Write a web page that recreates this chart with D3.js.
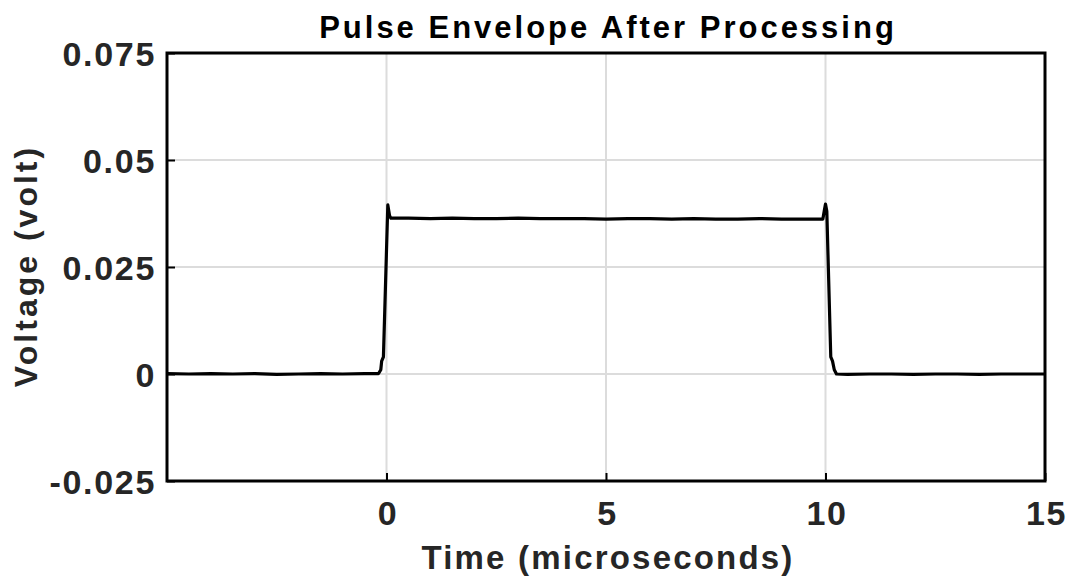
<!DOCTYPE html>
<html>
<head>
<meta charset="utf-8">
<script src="https://cdn.jsdelivr.net/npm/d3@7"></script>
<style>
  body { margin: 0; background: #fff; }
  text { font-family: "Liberation Sans", Arial, sans-serif; font-weight: bold; }
</style>
</head>
<body>
<script>
// Values
var timeUs = [-5, -4.5, -4, -3.5, -3, -2.5, -2, -1.5, -1, -0.5, -0.18, -0.13, -0.11, -0.07,
  0.03, 0.07, 0.1, 0.5, 1, 1.5, 2, 2.5, 3, 3.5, 4, 4.5, 5, 5.5, 6, 6.5, 7, 7.5, 8, 8.5, 9, 9.5, 9.94,
  9.97, 10.0, 10.03, 10.12, 10.16, 10.2, 10.25, 10.5, 11, 11.5, 12, 12.5, 13, 13.5, 14, 14.5, 15];
var voltage = [0.0001, 0.0000, 0.0001, 0.0000, 0.0001, -0.0001, 0.0000, 0.0001, 0.0000, 0.0001, 0.0001, 0.0010, 0.0030, 0.0040,
  0.0395, 0.0370, 0.0364, 0.0364, 0.0363, 0.0364, 0.0363, 0.0363, 0.0364, 0.0363, 0.0363, 0.0363, 0.0362, 0.0363, 0.0363, 0.0362, 0.0363, 0.0362, 0.0362, 0.0363, 0.0362, 0.0362, 0.0362,
  0.0380, 0.0397, 0.0380, 0.0040, 0.0030, 0.0010, 0.0000, -0.0001, 0.0000, 0.0000, -0.0001, 0.0000, 0.0000, -0.0001, 0.0000, 0.0000, 0.0000];
var xTicks = [0, 5, 10, 15];
var yTicks = [-0.025, 0, 0.025, 0.05, 0.075];
var yTickLabels = ["-0.025", "0", "0.025", "0.05", "0.075"];

var margin = { top: 53, right: 25, bottom: 98, left: 167 },
    width = 1070 - margin.left - margin.right,
    height = 579 - margin.top - margin.bottom;

var svg = d3.select("body").append("svg")
    .attr("width", 1070)
    .attr("height", 579)
    .append("g")
    .attr("transform", "translate(" + margin.left + "," + margin.top + ")");

var x = d3.scaleLinear().domain([-5, 15]).range([0, width]);
var y = d3.scaleLinear().domain([-0.025, 0.075]).range([height, 0]);

// grid lines
svg.selectAll(".xgrid").data(xTicks).enter().append("line")
    .attr("x1", function(d) { return x(d); }).attr("x2", function(d) { return x(d); })
    .attr("y1", 0).attr("y2", height)
    .attr("stroke", "#dcdcdc").attr("stroke-width", 2);
svg.selectAll(".ygrid").data(yTicks).enter().append("line")
    .attr("x1", 0).attr("x2", width)
    .attr("y1", function(d) { return y(d); }).attr("y2", function(d) { return y(d); })
    .attr("stroke", "#dcdcdc").attr("stroke-width", 2);

// data line
var data = timeUs.map(function(t, i) { return { t: t, v: voltage[i] }; });
svg.append("path")
    .datum(data)
    .attr("fill", "none")
    .attr("stroke", "#000")
    .attr("stroke-width", 3.2)
    .attr("stroke-linejoin", "round")
    .attr("d", d3.line().x(function(d) { return x(d.t); }).y(function(d) { return y(d.v); }));

// axes
var xAxis = svg.append("g")
    .attr("transform", "translate(0," + height + ")")
    .call(d3.axisBottom(x).tickValues(xTicks).tickSize(-8).tickSizeOuter(0).tickPadding(20));
var yAxis = svg.append("g")
    .call(d3.axisLeft(y).tickValues(yTicks).tickFormat(function(d, i) { return yTickLabels[i]; })
      .tickSize(-8).tickSizeOuter(0).tickPadding(11));

[xAxis, yAxis].forEach(function(a) {
  a.select(".domain").remove();
  a.selectAll(".tick line").attr("stroke", "#000").attr("stroke-width", 2);
  a.selectAll(".tick text").attr("fill", "#262626")
    .style("font-size", "34px").style("letter-spacing", "1.7px");
});
xAxis.selectAll(".tick text").attr("dy", "0.71em").attr("dx", "1px");
yAxis.selectAll(".tick text").attr("dy", "0.36em");

// box
svg.append("rect")
    .attr("width", width).attr("height", height)
    .attr("fill", "none").attr("stroke", "#000").attr("stroke-width", 3);

// labels
svg.append("text")
    .attr("x", x(5) + 2).attr("y", -15)
    .attr("text-anchor", "middle")
    .style("font-size", "31px")
    .style("letter-spacing", "3px")
    .attr("fill", "#000")
    .text("Pulse Envelope After Processing");

svg.append("text")
    .attr("x", x(5) + 2).attr("y", height + 88)
    .attr("text-anchor", "middle")
    .style("font-size", "33px")
    .style("letter-spacing", "2.2px")
    .attr("fill", "#262626")
    .text("Time (microseconds)");

svg.append("text")
    .attr("transform", "rotate(-90)")
    .attr("x", -height / 2 + 1).attr("y", -130)
    .attr("text-anchor", "middle")
    .style("font-size", "32px")
    .style("letter-spacing", "3px")
    .attr("fill", "#262626")
    .text("Voltage (volt)");
</script>
</body>
</html>
